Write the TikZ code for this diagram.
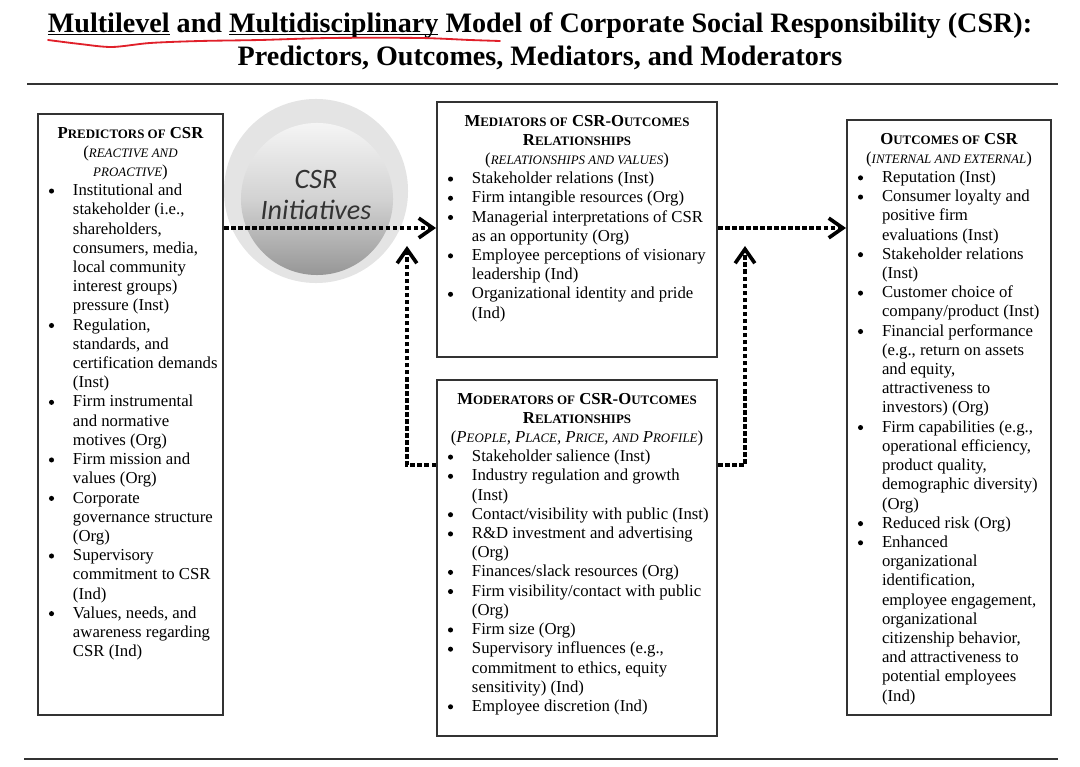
\documentclass[tikz,border=0pt]{standalone}
\usepackage{fontspec}
\setmainfont{Liberation Serif}
\newfontfamily\circfont{Carlito}
\usepackage{tikz}
\usetikzlibrary{arrows.meta,positioning}
\definecolor{inkgray}{HTML}{333333}
\definecolor{halogray}{HTML}{E4E4E4}
\definecolor{penred}{HTML}{E0202A}
\newcommand{\sck}[1]{{\fontsize{9.2}{13.66}\selectfont #1}}
\newcommand{\boxfont}{\fontsize{11.9}{13.66}\selectfont}
\newcommand{\dotmark}{\tikz[baseline=0pt]\fill[black] (1.8pt,3.3pt) circle (1.8pt);}
\newcommand{\itm}{\par\hangindent=0.8cm\hangafter=1\noindent\hspace*{0.2cm}\makebox[0.6cm][l]{\dotmark}}
\newcommand{\listmode}{\raggedright\rightskip=-10pt plus 1fil\relax}
\newcommand{\linkline}[1]{\setbox0\hbox{#1}\rlap{\rule[-1.6pt]{\wd0}{0.7pt}}\box0\relax}
\tikzset{
  panel/.style={draw=inkgray, line width=1.4pt, inner xsep=0.075cm, inner ysep=0.325cm,
    anchor=north west, font=\boxfont},
  flow/.style={line width=2.6pt, dash pattern=on 3.2pt off 1.8pt,
    -{Straight Barb[length=10pt,width=14pt,line width=2.6pt]}},
  headline/.style={anchor=base, font=\fontsize{20}{23.4}\selectfont\bfseries},
}

\begin{document}
\begin{tikzpicture}[x=0.025cm, y=-0.025cm]
  \useasboundingbox (0,0) rectangle (1080,767);
  % title and rules
  \node[headline] (title) at (540,33) {\linkline{Multilevel} and \linkline{Multidisciplinary} Model of Corporate Social Responsibility (CSR):};
  \node[headline] (subtitle) at (540,66) {Predictors, Outcomes, Mediators, and Moderators};
  \draw[penred, line width=1.3pt, line cap=round] plot[smooth] coordinates
    {(48,40) (80,44) (112,47) (150,43) (200,41) (260,40) (330,38) (420,38) (470,40) (500,41)};
  \draw[inkgray, line width=1.8pt] (27,84) -- (1058,84);
  \draw[inkgray, line width=1.8pt] (24,759) -- (1058,759);

  % CSR initiatives
  \node[circle, inner sep=0, minimum size=4.6cm, fill=halogray] (halo) at (316,191) {};
  \node[circle, inner sep=0, minimum size=3.8cm, top color=gray!8, bottom color=gray!82,
    middle color=gray!35] (core) at (317,199) {};
  \node[font=\circfont\itshape\fontsize{20}{22.7}\selectfont, text=inkgray, align=center]
    (initlabel) at (316,195) {CSR\\Initiatives};

  % boxes
  \node[panel] (pred) at (37,113) {\parbox[c][14.375cm][t]{4.475cm}{%
    {\centering\bfseries P\sck{REDICTORS OF} CSR\\
    \mdseries(\textit{\sck{REACTIVE AND}}\\\textit{\sck{PROACTIVE}})\par}
    \listmode
    \itm Institutional and\newline stakeholder (i.e.,\newline shareholders,\newline consumers, media,\newline local community\newline interest groups)\newline pressure (Inst)
    \itm Regulation,\newline standards, and\newline certification demands\newline (Inst)
    \itm Firm instrumental\newline and normative\newline motives (Org)
    \itm Firm mission and\newline values (Org)
    \itm Corporate\newline governance structure\newline (Org)
    \itm Supervisory\newline commitment to CSR\newline (Ind)
    \itm Values, needs, and\newline awareness regarding\newline CSR (Ind)\par}};

  \node[panel] (med) at (436,101) {\parbox[c][5.725cm][t]{6.85cm}{%
    {\centering\bfseries M\sck{EDIATORS OF} CSR-O\sck{UTCOMES}\\
    R\sck{ELATIONSHIPS}\\
    \mdseries(\textit{\sck{RELATIONSHIPS AND VALUES}})\par}
    \listmode
    \itm Stakeholder relations (Inst)
    \itm Firm intangible resources (Org)
    \itm Managerial interpretations of CSR\newline as an opportunity (Org)
    \itm Employee perceptions of visionary\newline leadership (Ind)
    \itm Organizational identity and pride\newline (Ind)\par}};

  \node[panel, below=0.525cm of med] (mod) {\parbox[c][8.25cm][t]{6.85cm}{%
    {\centering\bfseries M\sck{ODERATORS OF} CSR-O\sck{UTCOMES}\\
    R\sck{ELATIONSHIPS}\\
    \mdseries(\textit{P\sck{EOPLE}, P\sck{LACE}, P\sck{RICE}, \sck{AND} P\sck{ROFILE}})\par}
    \listmode
    \itm Stakeholder salience (Inst)
    \itm Industry regulation and growth\newline (Inst)
    \itm Contact/visibility with public (Inst)
    \itm R\&D investment and advertising\newline (Org)
    \itm Finances/slack resources (Org)
    \itm Firm visibility/contact with public\newline (Org)
    \itm Firm size (Org)
    \itm Supervisory influences (e.g.,\newline commitment to ethics, equity\newline sensitivity) (Ind)
    \itm Employee discretion (Ind)\par}};

  \node[panel] (out) at (846,119) {\parbox[c][14.225cm][t]{4.95cm}{%
    {\centering\bfseries O\sck{UTCOMES OF} CSR\\
    \mdseries(\textit{\sck{INTERNAL AND EXTERNAL}})\par}
    \listmode
    \itm Reputation (Inst)
    \itm Consumer loyalty and\newline positive firm\newline evaluations (Inst)
    \itm Stakeholder relations\newline (Inst)
    \itm Customer choice of\newline company/product (Inst)
    \itm Financial performance\newline (e.g., return on assets\newline and equity,\newline attractiveness to\newline investors) (Org)
    \itm Firm capabilities (e.g.,\newline operational efficiency,\newline product quality,\newline demographic diversity)\newline (Org)
    \itm Reduced risk (Org)
    \itm Enhanced\newline organizational\newline identification,\newline employee engagement,\newline organizational\newline citizenship behavior,\newline and attractiveness to\newline potential employees\newline (Ind)\par}};

  % dotted connectors
  \coordinate (lvl) at (0,228);
  \coordinate (modlvl) at (0,465);
  \coordinate (tipl) at (407,246);
  \coordinate (tipr) at (745,246);
  \draw[flow] (pred.east |- lvl) -- (med.west |- lvl);
  \draw[flow] (med.east |- lvl) -- (out.west |- lvl);
  \draw[flow] (mod.west |- modlvl) -| (tipl);
  \draw[flow] (mod.east |- modlvl) -| (tipr);
\end{tikzpicture}
\end{document}
